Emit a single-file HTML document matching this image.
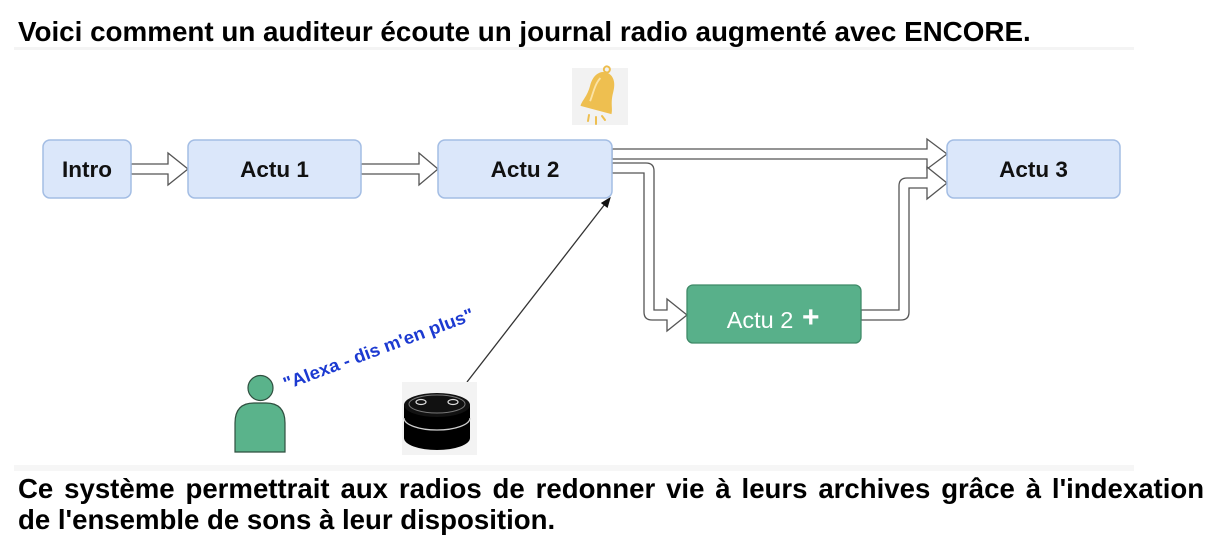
<!DOCTYPE html>
<html>
<head>
<meta charset="utf-8">
<style>
  html, body { margin:0; padding:0; background:#ffffff; }
  body { width:1220px; height:550px; overflow:hidden; }
  svg { display:block; }
  .t { font-family:"Liberation Sans", Arial, sans-serif; }
</style>
</head>
<body>
<svg width="1220" height="550" viewBox="0 0 1220 550" xmlns="http://www.w3.org/2000/svg">
  <rect x="0" y="0" width="1220" height="550" fill="#ffffff"/>

  <!-- Title -->
  <text class="t" x="18" y="41" font-size="27.8" font-weight="bold" fill="#000">Voici comment un auditeur écoute un journal radio augmenté avec ENCORE.</text>

  <!-- faint bands of the diagram image -->
  <rect x="14" y="47" width="1120" height="3" fill="#f4f4f4"/>
  <rect x="14" y="465" width="1120" height="6" fill="#f6f6f6"/>

  <!-- Bell icon -->
  <rect x="572" y="68" width="56" height="57" fill="#f2f2f2"/>
  <g transform="translate(596,110) rotate(15)">
    <circle cx="0" cy="-42" r="3" fill="none" stroke="#edbd4e" stroke-width="2"/>
    <path d="M-16,0 C-16,-6 -12,-10 -12,-22 C-12,-34 -6,-39 0,-39 C6,-39 12,-34 12,-22 C12,-10 16,-6 16,0 Z" fill="#eebf50"/>
    <path d="M-8,-7 C-7,-14 -8,-25 -4,-32" fill="none" stroke="#fbe3a6" stroke-width="1.8"/>
  </g>
  <g stroke="#eebf50" stroke-width="2" stroke-linecap="round">
    <line x1="589" y1="115" x2="588" y2="121"/>
    <line x1="596" y1="117" x2="596" y2="124"/>
    <line x1="602" y1="116" x2="605" y2="120"/>
  </g>

  <!-- Connectors (flex arrows) -->
  <g fill="#ffffff" stroke="#555" stroke-width="1.3" stroke-linejoin="miter">
    <path d="M131,164 H168 V153 L188,169 L168,185 V174 H131 Z"/>
    <path d="M361,164 H419 V153 L438,169 L419,185 V174 H361 Z"/>
    <path d="M612,149 H927 V139 L947,154 L927,169 V159 H612 Z"/>
    <path d="M612,163 H646 Q654,163 654,171 V310 H667 V299 L687,315 L667,331 V320 H652 Q644,320 644,312 V173 H612 Z"/>
    <path d="M861,310 H899 V186 Q899,178 907,178 H927 V167 L947,183 L927,199 V188 H909 V312 Q909,320 901,320 H861 Z"/>
  </g>

  <!-- Boxes -->
  <g stroke="#a3bde4" stroke-width="1.5" fill="#dbe7fa">
    <rect x="43" y="140" width="88" height="58" rx="7"/>
    <rect x="188" y="140" width="173" height="58" rx="7"/>
    <rect x="438" y="140" width="174" height="58" rx="7"/>
    <rect x="947" y="140" width="173" height="58" rx="7"/>
  </g>
  <rect x="687" y="285" width="174" height="58" rx="6" fill="#58b08a" stroke="#3f8a68" stroke-width="1.3"/>

  <g class="t" font-size="22.5" font-weight="bold" fill="#111" text-anchor="middle">
    <text x="87" y="177">Intro</text>
    <text x="274.5" y="177">Actu 1</text>
    <text x="525" y="177">Actu 2</text>
    <text x="1033.5" y="177">Actu 3</text>
  </g>
  <text class="t" x="760" y="328" font-size="23.5" fill="#ffffff" text-anchor="middle">Actu 2</text>
  <text class="t" x="802" y="327" font-size="30" font-weight="bold" fill="#ffffff">+</text>

  <!-- Thin arrow from Echo to Actu 2 -->
  <line x1="467" y1="382" x2="605" y2="204" stroke="#333" stroke-width="1.3"/>
  <polygon points="610,198 607.3,207.2 601.7,203" fill="#111" stroke="#111" stroke-width="1"/>

  <!-- Person -->
  <path d="M235,452 V423 Q235,403 254,403 H266 Q285,403 285,423 V452 Z" fill="#5ab38b" stroke="#2f4f3f" stroke-width="1.2"/>
  <circle cx="260.5" cy="388" r="12.5" fill="#5ab38b" stroke="#2f4f3f" stroke-width="1.2"/>

  <!-- Quote -->
  <text class="t" x="286" y="390" font-size="18" font-weight="bold" fill="#1c3ad1" transform="rotate(-20.5 286 390)" textLength="202" lengthAdjust="spacingAndGlyphs">"Alexa - dis m'en plus"</text>

  <!-- Echo dot -->
  <rect x="402" y="382" width="75" height="73" fill="#f3f3f3"/>
  <g>
    <path d="M404,405 V438 A33,12 0 0 0 470,438 V405 Z" fill="#000"/>
    <ellipse cx="437" cy="405" rx="33" ry="12" fill="#111"/>
    <ellipse cx="437" cy="404" rx="28" ry="9" fill="none" stroke="#777" stroke-width="1"/>
    <ellipse cx="421" cy="402" rx="5" ry="2.5" fill="none" stroke="#ddd" stroke-width="1.2"/>
    <ellipse cx="453" cy="402" rx="5" ry="2.5" fill="none" stroke="#ddd" stroke-width="1.2"/>
    <path d="M404,418 A33,12 0 0 0 470,418" fill="none" stroke="#cfcfcf" stroke-width="1.3"/>
  </g>

  <!-- Bottom text -->
  <text class="t" x="18" y="498" font-size="27.6" font-weight="bold" fill="#000" word-spacing="3.2">Ce système permettrait aux radios de redonner vie à leurs archives grâce à l'indexation</text>
  <text class="t" x="18" y="529" font-size="27.6" font-weight="bold" fill="#000">de l'ensemble de sons à leur disposition.</text>
</svg>
</body>
</html>
